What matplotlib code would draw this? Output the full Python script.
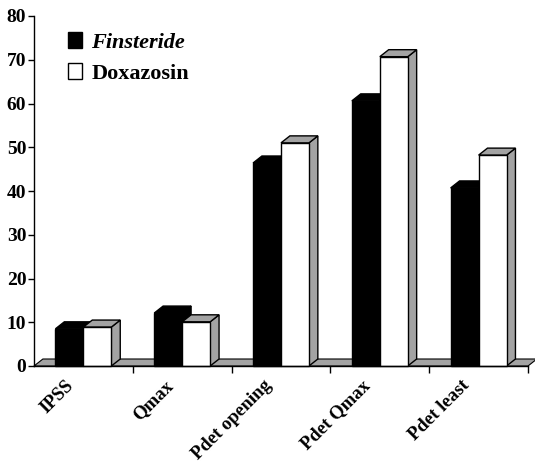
import matplotlib
matplotlib.use("Agg")
import matplotlib.pyplot as plt
import matplotlib.transforms as mtransforms
from matplotlib.patches import Polygon, Patch

plt.rcParams["font.family"] = ["Liberation Serif", "DejaVu Serif"]
plt.rcParams["font.weight"] = "bold"

categories = ["IPSS", "Qmax", "Pdet opening", "Pdet Qmax", "Pdet least"]
finasteride = [8.5, 12.1, 46.4, 60.6, 40.7]
doxazosin = [8.9, 10.1, 51.0, 70.7, 48.2]
yticks = [0, 10, 20, 30, 40, 50, 60, 70, 80]

W = 0.283          # bar width (category units)
DX, DY = 0.09, 1.6  # 3d depth offset
GREY = "#a3a3a3"

fig = plt.figure(figsize=(5.35, 4.66), dpi=100)
ax = fig.add_axes([34 / 535, 100 / 466, 494 / 535, 350 / 466])
n = len(categories)
ax.set_xlim(0, n)
ax.set_ylim(0, 80)


def box(x0, h, front, top, side):
    pts_front = [(x0, 0), (x0 + W, 0), (x0 + W, h), (x0, h)]
    pts_top = [(x0, h), (x0 + W, h), (x0 + W + DX, h + DY), (x0 + DX, h + DY)]
    pts_side = [(x0 + W, 0), (x0 + W + DX, DY), (x0 + W + DX, h + DY), (x0 + W, h)]
    for pts, fc in ((pts_side, side), (pts_top, top), (pts_front, front)):
        ax.add_patch(Polygon(pts, closed=True, facecolor=fc, edgecolor="black",
                             lw=1, clip_on=False, joinstyle="miter"))


# floor strip
ax.add_patch(Polygon([(0, 0), (n, 0), (n + DX, DY), (DX, DY)], closed=True,
                     facecolor=GREY, edgecolor="black", lw=0.8, clip_on=False))

for i in range(n):
    c = i + 0.5
    box(c - W, finasteride[i], "black", "black", "black")
    box(c, doxazosin[i], "white", GREY, GREY)

for s in ("top", "right"):
    ax.spines[s].set_visible(False)
for s in ("left", "bottom"):
    ax.spines[s].set_linewidth(1)

ax.set_yticks(yticks)
ax.set_yticklabels([str(v) for v in yticks], fontsize=14, fontweight="bold")
ax.tick_params(axis="y", direction="out", length=4, width=1, pad=1.5)

ax.set_xticks(range(1, n + 1))
ax.set_xticklabels([])
ax.tick_params(axis="x", which="major", direction="out", length=5, width=1)
ax.set_xticks([i + 0.5 for i in range(n)], minor=True)
ax.set_xticklabels(categories, minor=True, fontsize=13.5, fontweight="bold",
                   rotation=45, ha="right", va="top")
ax.tick_params(axis="x", which="minor", length=0, pad=8)
shift = mtransforms.ScaledTranslation(-6 / 100, 0, fig.dpi_scale_trans)
for lbl in ax.get_xticklabels(minor=True):
    lbl.set_transform(lbl.get_transform() + shift)

handles = [Patch(facecolor="black", edgecolor="black", lw=1),
           Patch(facecolor="white", edgecolor="black", lw=1)]
leg = ax.legend(handles, ["Finsteride", "Doxazosin"], loc="upper left",
                bbox_to_anchor=(34 / 494, 0.955), frameon=False,
                prop={"size": 16, "weight": "bold"}, handlelength=0.65,
                handleheight=0.75, handletextpad=0.4, labelspacing=0.45,
                borderpad=0, borderaxespad=0)
leg.get_texts()[0].set_style("italic")

fig.savefig("out.png", dpi=100)
